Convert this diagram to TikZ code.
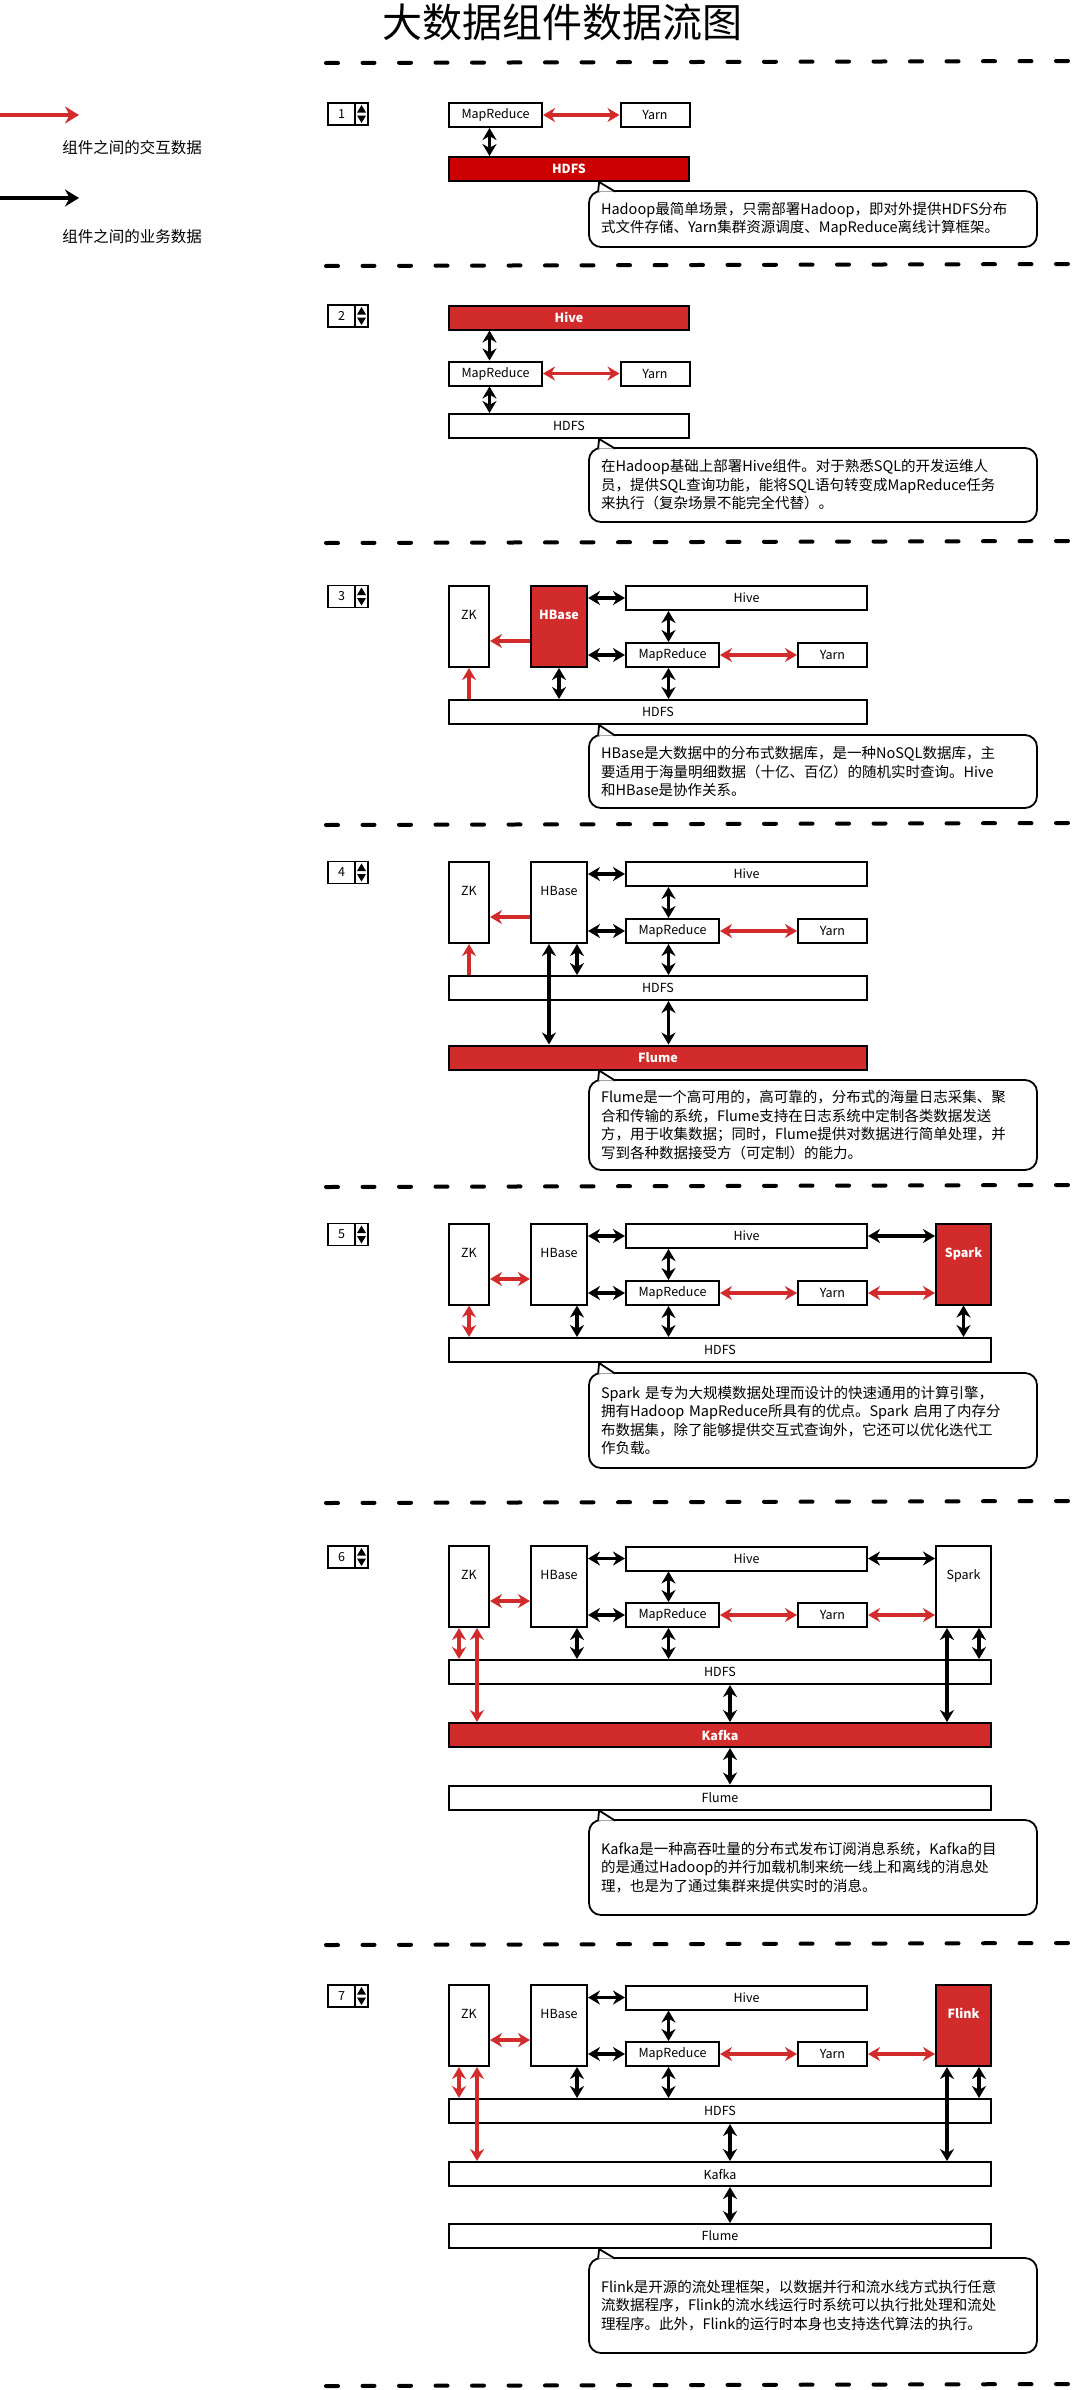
\documentclass[tikz,border=0pt]{standalone}
\usepackage{fontspec}
\setmainfont{Noto Sans CJK SC}
\usetikzlibrary{arrows.meta}
\definecolor{flowred}{RGB}{210,43,43}
\definecolor{deepred}{RGB}{204,0,0}

\begin{document}
\begin{tikzpicture}[x=1pt,y=-1pt,
		>={Stealth[length=12pt,width=14pt]},
		comp/.style={rectangle,draw,line width=2pt,fill=white,inner sep=0pt,minimum height=24pt,font=\fontsize{12.5}{14}\selectfont},
		tall/.style={minimum height=81pt,text height=9pt,text depth=23pt},
		hot/.style={fill=flowred,text=white,font=\fontsize{12.5}{14}\selectfont\bfseries},
		hotdeep/.style={hot,fill=deepred},
		note/.style={rectangle,draw,rounded corners=12pt,line width=1.8pt,fill=white,text width=424pt,inner xsep=12pt,inner ysep=0pt,align=left,font=\fontsize{14.5}{18.5}\selectfont},
		tail/.style={line width=1.8pt,fill=white},
		stepbox/.style={rectangle,draw,line width=1.6pt,inner sep=0pt,minimum width=27pt,minimum height=22pt,font=\fontsize{12.5}{14}\selectfont},
		spinbox/.style={rectangle,draw,line width=1.6pt,inner sep=0pt,minimum width=13pt,minimum height=22pt},
		business/.style={line width=3.6pt},
		interact/.style={line width=3.6pt,flowred},
		sepline/.style={line width=4pt,dash pattern=on 12pt off 24.5pt,line cap=round},
		legendtext/.style={font=\fontsize{15.5}{18}\selectfont}]

		\useasboundingbox (0,0) rectangle (1087,2390);

		% title and legend
		\node[font=\fontsize{40}{44}\selectfont] (title) at (562,22) {大数据组件数据流图};
		\coordinate (redtail) at (0,115);
		\coordinate (redhead) at (79,115);
		\coordinate (blacktail) at (0,198);
		\coordinate (blackhead) at (79,198);
		\draw[interact,line width=4.5pt,-{Stealth[length=14pt,width=17pt]}] (redtail) -- (redhead);
		\draw[business,line width=4.5pt,-{Stealth[length=14pt,width=17pt]}] (blacktail) -- (blackhead);
		\node[legendtext] (redlabel) at (132,148) {组件之间的交互数据};
		\node[legendtext] (blacklabel) at (132,237) {组件之间的业务数据};

		% separators
		\draw[sepline] (326,63) -- (1068,61);
		\draw[sepline] (326,266) -- (1068,264);
		\draw[sepline] (326,543) -- (1068,541);
		\draw[sepline] (326,825) -- (1068,823);
		\draw[sepline] (326,1187) -- (1068,1185);
		\draw[sepline] (326,1503) -- (1068,1501);
		\draw[sepline] (326,1945) -- (1068,1943);
		\draw[sepline] (326,2386) -- (1068,2384);

		% step counters
		\node[stepbox] (num1) at (341.5,114) {1};
		\node[spinbox] (spin1) at (361.5,114) {};
		\fill ([yshift=9pt]spin1.center) -- ++(-4.5,7.5) -- ++(9,0) -- cycle;
		\fill ([yshift=-9pt]spin1.center) -- ++(-4.5,-7.5) -- ++(9,0) -- cycle;
		\node[stepbox] (num2) at (341.5,316) {2};
		\node[spinbox] (spin2) at (361.5,316) {};
		\fill ([yshift=9pt]spin2.center) -- ++(-4.5,7.5) -- ++(9,0) -- cycle;
		\fill ([yshift=-9pt]spin2.center) -- ++(-4.5,-7.5) -- ++(9,0) -- cycle;
		\node[stepbox] (num3) at (341.5,596.5) {3};
		\node[spinbox] (spin3) at (361.5,596.5) {};
		\fill ([yshift=9pt]spin3.center) -- ++(-4.5,7.5) -- ++(9,0) -- cycle;
		\fill ([yshift=-9pt]spin3.center) -- ++(-4.5,-7.5) -- ++(9,0) -- cycle;
		\node[stepbox] (num4) at (341.5,872.5) {4};
		\node[spinbox] (spin4) at (361.5,872.5) {};
		\fill ([yshift=9pt]spin4.center) -- ++(-4.5,7.5) -- ++(9,0) -- cycle;
		\fill ([yshift=-9pt]spin4.center) -- ++(-4.5,-7.5) -- ++(9,0) -- cycle;
		\node[stepbox] (num5) at (341.5,1234.5) {5};
		\node[spinbox] (spin5) at (361.5,1234.5) {};
		\fill ([yshift=9pt]spin5.center) -- ++(-4.5,7.5) -- ++(9,0) -- cycle;
		\fill ([yshift=-9pt]spin5.center) -- ++(-4.5,-7.5) -- ++(9,0) -- cycle;
		\node[stepbox] (num6) at (341.5,1557) {6};
		\node[spinbox] (spin6) at (361.5,1557) {};
		\fill ([yshift=9pt]spin6.center) -- ++(-4.5,7.5) -- ++(9,0) -- cycle;
		\fill ([yshift=-9pt]spin6.center) -- ++(-4.5,-7.5) -- ++(9,0) -- cycle;
		\node[stepbox] (num7) at (341.5,1996) {7};
		\node[spinbox] (spin7) at (361.5,1996) {};
		\fill ([yshift=9pt]spin7.center) -- ++(-4.5,7.5) -- ++(9,0) -- cycle;
		\fill ([yshift=-9pt]spin7.center) -- ++(-4.5,-7.5) -- ++(9,0) -- cycle;

		% 1: Hadoop
		\node[comp,minimum width=93pt] (mr1) at (495.5,115) {MapReduce};
		\node[comp,minimum width=69pt] (yarn1) at (655,115) {Yarn};
		\node[comp,hotdeep,minimum width=240pt] (hdfs1) at (569,169) {HDFS};
		\draw[interact,<->] (mr1.east) -- (yarn1.west);
		\draw[business,<->] ([xshift=-6pt]mr1.south) -- ([xshift=-6pt]mr1.south |- hdfs1.north);
		\node[note,minimum height=56pt] (note1) at (813,219) {Hadoop最简单场景，只需部署Hadoop，即对外提供HDFS分布\\式文件存储、Yarn集群资源调度、MapReduce离线计算框架。};
		\draw[tail] ([xshift=10pt,yshift=-1.5pt]note1.north west) -- ([xshift=11pt]note1.north west |- hdfs1.south) -- ([xshift=27pt,yshift=-1.5pt]note1.north west);

		% 2: Hive
		\node[comp,hot,minimum width=240pt] (hive2) at (569,317.5) {Hive};
		\node[comp,minimum width=93pt] (mr2) at (495.5,373.5) {MapReduce};
		\node[comp,minimum width=69pt] (yarn2) at (655,373.5) {Yarn};
		\node[comp,minimum width=240pt] (hdfs2) at (569,426) {HDFS};
		\draw[business,<->] ([xshift=-6pt]mr2.north) -- ([xshift=-6pt]mr2.north |- hive2.south);
		\draw[business,<->] ([xshift=-6pt]mr2.south) -- ([xshift=-6pt]mr2.south |- hdfs2.north);
		\draw[interact,<->] (mr2.east) -- (yarn2.west);
		\node[note,minimum height=74pt] (note2) at (813,485) {在Hadoop基础上部署Hive组件。对于熟悉SQL的开发运维人\\员，提供SQL查询功能，能将SQL语句转变成MapReduce任务\\来执行（复杂场景不能完全代替）。};
		\draw[tail] ([xshift=10pt,yshift=-1.5pt]note2.north west) -- ([xshift=11pt]note2.north west |- hdfs2.south) -- ([xshift=27pt,yshift=-1.5pt]note2.north west);

		% 3: HBase
		\node[comp,tall,minimum width=40pt] (zk3) at (469,626.5) {ZK};
		\node[comp,tall,hot,minimum width=56pt] (hbase3) at (559,626.5) {HBase};
		\node[comp,minimum width=241pt] (hive3) at (746.5,598) {Hive};
		\node[comp,minimum width=93pt] (mr3) at (672.5,655) {MapReduce};
		\node[comp,minimum width=69pt] (yarn3) at (832.5,655) {Yarn};
		\node[comp,minimum width=418pt] (hdfs3) at (658,712) {HDFS};
		\draw[interact,->] ([yshift=-14.5pt]hbase3.west) -- ([yshift=-14.5pt]zk3.east);
		\draw[interact,->] (zk3.south |- hdfs3.north) -- (zk3.south);
		\draw[business,<->] (hbase3.east |- hive3.west) -- (hive3.west);
		\draw[business,<->] (hbase3.east |- mr3.west) -- (mr3.west);
		\draw[business,<->] (hbase3.south) -- (hbase3.south |- hdfs3.north);
		\draw[business,<->] ([xshift=-4pt]mr3.north) -- ([xshift=-4pt]mr3.north |- hive3.south);
		\draw[business,<->] ([xshift=-4pt]mr3.south) -- ([xshift=-4pt]mr3.south |- hdfs3.north);
		\draw[interact,<->] (mr3.east) -- (yarn3.west);
		\node[note,minimum height=73pt] (note3) at (813,771.5) {HBase是大数据中的分布式数据库，是一种NoSQL数据库，主\\要适用于海量明细数据（十亿、百亿）的随机实时查询。Hive\\和HBase是协作关系。};
		\draw[tail] ([xshift=10pt,yshift=-1.5pt]note3.north west) -- ([xshift=11pt]note3.north west |- hdfs3.south) -- ([xshift=27pt,yshift=-1.5pt]note3.north west);

		% 4: Flume
		\node[comp,tall,minimum width=40pt] (zk4) at (469,902.5) {ZK};
		\node[comp,tall,minimum width=56pt] (hbase4) at (559,902.5) {HBase};
		\node[comp,minimum width=241pt] (hive4) at (746.5,874) {Hive};
		\node[comp,minimum width=93pt] (mr4) at (672.5,931) {MapReduce};
		\node[comp,minimum width=69pt] (yarn4) at (832.5,931) {Yarn};
		\node[comp,minimum width=418pt] (hdfs4) at (658,988) {HDFS};
		\node[comp,hot,minimum width=418pt] (flume4) at (658,1057.5) {Flume};
		\draw[interact,->] ([yshift=-14.5pt]hbase4.west) -- ([yshift=-14.5pt]zk4.east);
		\draw[interact,->] (zk4.south |- hdfs4.north) -- (zk4.south);
		\draw[business,<->] (hbase4.east |- hive4.west) -- (hive4.west);
		\draw[business,<->] (hbase4.east |- mr4.west) -- (mr4.west);
		\draw[business,<->] ([xshift=18pt]hbase4.south) -- ([xshift=18pt]hbase4.south |- hdfs4.north);
		\draw[business,<->] ([xshift=-10pt]hbase4.south) -- ([xshift=-10pt]hbase4.south |- flume4.north);
		\draw[business,<->] ([xshift=-4pt]mr4.north) -- ([xshift=-4pt]mr4.north |- hive4.south);
		\draw[business,<->] ([xshift=-4pt]mr4.south) -- ([xshift=-4pt]mr4.south |- hdfs4.north);
		\draw[business,<->] ([xshift=-4pt]mr4.south |- hdfs4.south) -- ([xshift=-4pt]mr4.south |- flume4.north);
		\draw[interact,<->] (mr4.east) -- (yarn4.west);
		\node[note,minimum height=90pt] (note4) at (813,1125) {Flume是一个高可用的，高可靠的，分布式的海量日志采集、聚\\合和传输的系统，Flume支持在日志系统中定制各类数据发送\\方，用于收集数据；同时，Flume提供对数据进行简单处理，并\\写到各种数据接受方（可定制）的能力。};
		\draw[tail] ([xshift=10pt,yshift=-1.5pt]note4.north west) -- ([xshift=11pt]note4.north west |- flume4.south) -- ([xshift=27pt,yshift=-1.5pt]note4.north west);

		% 5: Spark
		\node[comp,tall,minimum width=40pt] (zk5) at (469,1264) {ZK};
		\node[comp,tall,minimum width=56pt] (hbase5) at (559,1264) {HBase};
		\node[comp,minimum width=241pt] (hive5) at (746.5,1236) {Hive};
		\node[comp,minimum width=93pt] (mr5) at (672.5,1293) {MapReduce};
		\node[comp,minimum width=69pt] (yarn5) at (832.5,1293) {Yarn};
		\node[comp,tall,hot,minimum width=55pt] (spark5) at (963.5,1264) {Spark};
		\node[comp,minimum width=542pt] (hdfs5) at (720,1350) {HDFS};
		\draw[interact,<->] ([yshift=-15pt]zk5.east) -- ([yshift=-15pt]hbase5.west);
		\draw[interact,<->] (zk5.south) -- (zk5.south |- hdfs5.north);
		\draw[business,<->] (hbase5.east |- hive5.west) -- (hive5.west);
		\draw[business,<->] (hbase5.east |- mr5.west) -- (mr5.west);
		\draw[business,<->] ([xshift=18pt]hbase5.south) -- ([xshift=18pt]hbase5.south |- hdfs5.north);
		\draw[business,<->] ([xshift=-4pt]mr5.north) -- ([xshift=-4pt]mr5.north |- hive5.south);
		\draw[business,<->] ([xshift=-4pt]mr5.south) -- ([xshift=-4pt]mr5.south |- hdfs5.north);
		\draw[interact,<->] (mr5.east) -- (yarn5.west);
		\draw[business,<->] (hive5.east) -- (spark5.west |- hive5.east);
		\draw[interact,<->] (yarn5.east) -- (spark5.west |- yarn5.east);
		\draw[business,<->] (spark5.south) -- (spark5.south |- hdfs5.north);
		\node[note,minimum height=95pt] (note5) at (813,1420.5) {Spark 是专为大规模数据处理而设计的快速通用的计算引擎，\\拥有Hadoop MapReduce所具有的优点。Spark 启用了内存分\\布数据集，除了能够提供交互式查询外，它还可以优化迭代工\\作负载。};
		\draw[tail] ([xshift=10pt,yshift=-1.5pt]note5.north west) -- ([xshift=11pt]note5.north west |- hdfs5.south) -- ([xshift=27pt,yshift=-1.5pt]note5.north west);

		% 6: Kafka
		\node[comp,tall,minimum width=40pt] (zk6) at (469,1586.5) {ZK};
		\node[comp,tall,minimum width=56pt] (hbase6) at (559,1586.5) {HBase};
		\node[comp,minimum width=241pt] (hive6) at (746.5,1558.5) {Hive};
		\node[comp,minimum width=93pt] (mr6) at (672.5,1615) {MapReduce};
		\node[comp,minimum width=69pt] (yarn6) at (832.5,1615) {Yarn};
		\node[comp,tall,minimum width=55pt] (spark6) at (963.5,1586.5) {Spark};
		\node[comp,minimum width=542pt] (hdfs6) at (720,1672) {HDFS};
		\node[comp,hot,minimum width=542pt] (kafka6) at (720,1735) {Kafka};
		\node[comp,minimum width=542pt] (flume6) at (720,1797.5) {Flume};
		\draw[interact,<->] ([yshift=-14.5pt]zk6.east) -- ([yshift=-14.5pt]hbase6.west);
		\draw[interact,<->] ([xshift=-10pt]zk6.south) -- ([xshift=-10pt]zk6.south |- hdfs6.north);
		\draw[interact,<->] ([xshift=8pt]zk6.south) -- ([xshift=8pt]zk6.south |- kafka6.north);
		\draw[business,<->] (hbase6.east |- hive6.west) -- (hive6.west);
		\draw[business,<->] (hbase6.east |- mr6.west) -- (mr6.west);
		\draw[business,<->] ([xshift=18pt]hbase6.south) -- ([xshift=18pt]hbase6.south |- hdfs6.north);
		\draw[business,<->] ([xshift=-4pt]mr6.north) -- ([xshift=-4pt]mr6.north |- hive6.south);
		\draw[business,<->] ([xshift=-4pt]mr6.south) -- ([xshift=-4pt]mr6.south |- hdfs6.north);
		\draw[interact,<->] (mr6.east) -- (yarn6.west);
		\draw[business,<->] (hive6.east) -- (spark6.west |- hive6.east);
		\draw[interact,<->] (yarn6.east) -- (spark6.west |- yarn6.east);
		\draw[business,<->] ([xshift=-16.5pt]spark6.south) -- ([xshift=-16.5pt]spark6.south |- kafka6.north);
		\draw[business,<->] ([xshift=15.5pt]spark6.south) -- ([xshift=15.5pt]spark6.south |- hdfs6.north);
		\draw[business,<->] ([xshift=10pt]hdfs6.south) -- ([xshift=10pt]kafka6.north);
		\draw[business,<->] ([xshift=10pt]kafka6.south) -- ([xshift=10pt]flume6.north);
		\node[note,minimum height=95pt] (note6) at (813,1867.5) {Kafka是一种高吞吐量的分布式发布订阅消息系统，Kafka的目\\的是通过Hadoop的并行加载机制来统一线上和离线的消息处\\理，也是为了通过集群来提供实时的消息。};
		\draw[tail] ([xshift=10pt,yshift=-1.5pt]note6.north west) -- ([xshift=11pt]note6.north west |- flume6.south) -- ([xshift=27pt,yshift=-1.5pt]note6.north west);

		% 7: Flink
		\node[comp,tall,minimum width=40pt] (zk7) at (469,2025.5) {ZK};
		\node[comp,tall,minimum width=56pt] (hbase7) at (559,2025.5) {HBase};
		\node[comp,minimum width=241pt] (hive7) at (746.5,1997.5) {Hive};
		\node[comp,minimum width=93pt] (mr7) at (672.5,2054) {MapReduce};
		\node[comp,minimum width=69pt] (yarn7) at (832.5,2054) {Yarn};
		\node[comp,tall,hot,minimum width=55pt] (flink7) at (963.5,2025.5) {Flink};
		\node[comp,minimum width=542pt] (hdfs7) at (720,2111) {HDFS};
		\node[comp,minimum width=542pt] (kafka7) at (720,2174) {Kafka};
		\node[comp,minimum width=542pt] (flume7) at (720,2236) {Flume};
		\draw[interact,<->] ([yshift=-14.5pt]zk7.east) -- ([yshift=-14.5pt]hbase7.west);
		\draw[interact,<->] ([xshift=-10pt]zk7.south) -- ([xshift=-10pt]zk7.south |- hdfs7.north);
		\draw[interact,<->] ([xshift=8pt]zk7.south) -- ([xshift=8pt]zk7.south |- kafka7.north);
		\draw[business,<->] (hbase7.east |- hive7.west) -- (hive7.west);
		\draw[business,<->] (hbase7.east |- mr7.west) -- (mr7.west);
		\draw[business,<->] ([xshift=18pt]hbase7.south) -- ([xshift=18pt]hbase7.south |- hdfs7.north);
		\draw[business,<->] ([xshift=-4pt]mr7.north) -- ([xshift=-4pt]mr7.north |- hive7.south);
		\draw[business,<->] ([xshift=-4pt]mr7.south) -- ([xshift=-4pt]mr7.south |- hdfs7.north);
		\draw[interact,<->] (mr7.east) -- (yarn7.west);
		\draw[interact,<->] (yarn7.east) -- (flink7.west |- yarn7.east);
		\draw[business,<->] ([xshift=-16.5pt]flink7.south) -- ([xshift=-16.5pt]flink7.south |- kafka7.north);
		\draw[business,<->] ([xshift=15.5pt]flink7.south) -- ([xshift=15.5pt]flink7.south |- hdfs7.north);
		\draw[business,<->] ([xshift=10pt]hdfs7.south) -- ([xshift=10pt]kafka7.north);
		\draw[business,<->] ([xshift=10pt]kafka7.south) -- ([xshift=10pt]flume7.north);
		\node[note,minimum height=95pt] (note7) at (813,2305.5) {Flink是开源的流处理框架，以数据并行和流水线方式执行任意\\流数据程序，Flink的流水线运行时系统可以执行批处理和流处\\理程序。此外，Flink的运行时本身也支持迭代算法的执行。};
		\draw[tail] ([xshift=10pt,yshift=-1.5pt]note7.north west) -- ([xshift=11pt]note7.north west |- flume7.south) -- ([xshift=27pt,yshift=-1.5pt]note7.north west);
	\end{tikzpicture}
\end{document}
